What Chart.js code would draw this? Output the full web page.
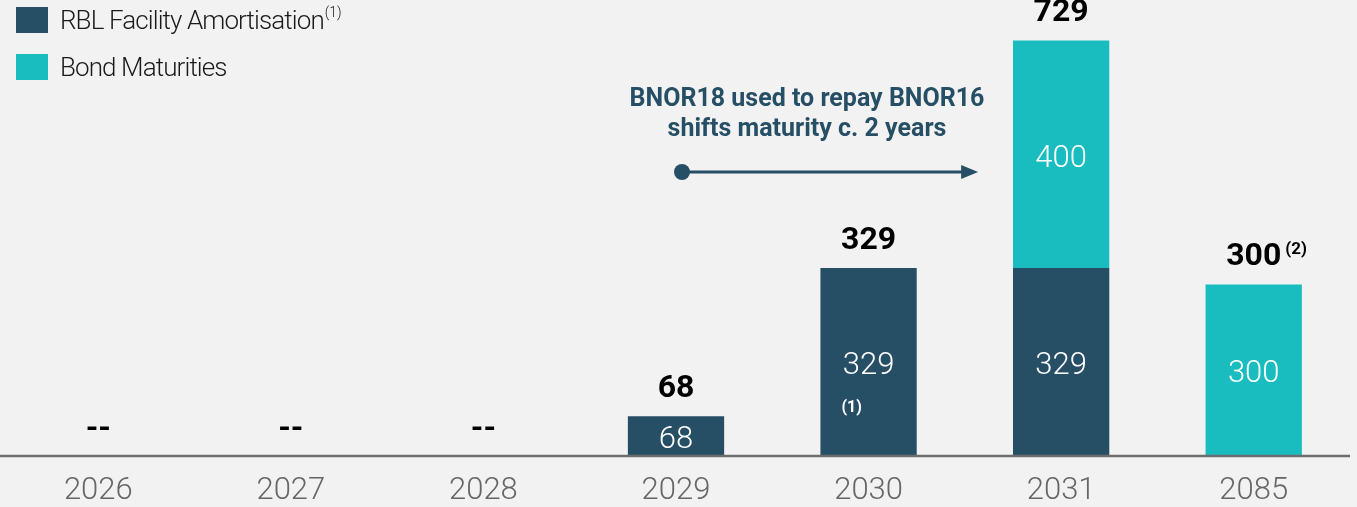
<!DOCTYPE html>
<html>
<head>
<meta charset="utf-8">
<script src="https://cdn.jsdelivr.net/npm/chart.js@4"></script>
<style>
  html, body { margin: 0; padding: 0; background: #f2f2f2; }
  #wrap { width: 1357px; height: 507px; }
</style>
</head>
<body>
<div id="wrap"><canvas id="debtChart" width="1357" height="507"></canvas></div>
<script>
const years = ['2026', '2027', '2028', '2029', '2030', '2031', '2085'];
const rblAmort = [0, 0, 0, 68, 329, 329, 0];
const bondMat = [0, 0, 0, 0, 0, 400, 300];
const totalNotes = ['', '', '', '', '', '', '(2)'];
const rblNotes = ['', '', '', '', '(1)', '', ''];
const seriesNames = ['RBL Facility Amortisation', 'Bond Maturities'];
const legendNotes = ['(1)', ''];
const calloutLines = ['BNOR18 used to repay BNOR16', 'shifts maturity c. 2 years'];

const DARK = '#264f66';
const TEAL = '#19bdc0';
const FONT = 'Roboto, "Liberation Sans", sans-serif';

// background, legend, callout, value labels and the base line
const decor = {
  id: 'decor',
  beforeDraw(chart) {
    const c = chart.ctx;
    c.save();
    c.fillStyle = '#f2f2f2';
    c.fillRect(0, 0, chart.width, chart.height);
    c.restore();
  },
  afterDatasetsDraw(chart) {
    const c = chart.ctx;
    const xs = chart.scales.x;
    const ys = chart.scales.y;
    const area = chart.chartArea;
    c.save();

    // base line
    c.strokeStyle = '#6d6d6d';
    c.lineWidth = 2.5;
    c.beginPath();
    c.moveTo(0, area.bottom + 1);
    c.lineTo(area.right, area.bottom + 1);
    c.stroke();

    // values inside the bars
    c.textAlign = 'center';
    c.textBaseline = 'middle';
    c.fillStyle = '#ffffff';
    chart.data.datasets.forEach((ds, di) => {
      const meta = chart.getDatasetMeta(di);
      meta.data.forEach((bar, i) => {
        const v = ds.data[i];
        if (!v) return;
        c.font = '300 31px ' + FONT;
        c.fillText(String(v), bar.x, (bar.y + bar.base) / 2 + 5);
        if (di === 0 && rblNotes[i]) {
          c.font = 'bold 16px ' + FONT;
          c.fillText(rblNotes[i], bar.x - 17, bar.base - 47);
        }
      });
    });

    // totals above the bars
    c.fillStyle = '#000000';
    years.forEach((yr, i) => {
      const total = rblAmort[i] + bondMat[i];
      const x = xs.getPixelForValue(i);
      c.font = 'bold 32px ' + FONT;
      if (total === 0) {
        c.fillText('--', x, ys.getPixelForValue(0) - 25);
        return;
      }
      const y = ys.getPixelForValue(total) - 27;
      c.fillText(String(total), x, y);
      if (totalNotes[i]) {
        const w = c.measureText(String(total)).width;
        c.font = 'bold 17px ' + FONT;
        c.textAlign = 'left';
        c.fillText(totalNotes[i], x + w / 2 + 4, y - 8);
        c.textAlign = 'center';
      }
    });

    // legend
    const colors = [DARK, TEAL];
    seriesNames.forEach((name, k) => {
      const top = 7 + k * 47;
      c.fillStyle = colors[k];
      c.fillRect(16, top, 32, 26);
      c.fillStyle = '#1a1a1a';
      c.textAlign = 'left';
      c.font = '300 26px ' + FONT;
      c.letterSpacing = '-0.9px';
      c.fillText(name, 60, top + 15);
      if (legendNotes[k]) {
        const w = c.measureText(name).width;
        c.letterSpacing = '0px';
        c.font = '300 14px ' + FONT;
        c.fillText(legendNotes[k], 60 + w + 1, top + 6);
      }
      c.letterSpacing = '0px';
    });

    // callout with arrow
    c.fillStyle = DARK;
    c.strokeStyle = DARK;
    c.textAlign = 'center';
    c.font = 'bold 25px ' + FONT;
    calloutLines.forEach((line, k) => {
      c.fillText(line, 807, 100 + k * 30);
    });
    const x0 = xs.getPixelForValue(3) + 6;
    const x1 = xs.getPixelForValue(5) - 83;
    const ay = 172;
    c.lineWidth = 3;
    c.beginPath();
    c.moveTo(x0, ay);
    c.lineTo(x1 - 12, ay);
    c.stroke();
    c.beginPath();
    c.arc(x0, ay, 8, 0, Math.PI * 2);
    c.fill();
    c.beginPath();
    c.moveTo(x1, ay);
    c.lineTo(x1 - 17, ay - 7);
    c.lineTo(x1 - 17, ay + 7);
    c.closePath();
    c.fill();

    c.restore();
  }
};

new Chart(document.getElementById('debtChart'), {
  type: 'bar',
  data: {
    labels: years,
    datasets: [
      { label: seriesNames[0], data: rblAmort, backgroundColor: DARK },
      { label: seriesNames[1], data: bondMat, backgroundColor: TEAL }
    ]
  },
  options: {
    responsive: false,
    animation: false,
    devicePixelRatio: 1,
    layout: { padding: { left: 2, right: 7, top: 0, bottom: 0 } },
    datasets: { bar: { barPercentage: 0.5, categoryPercentage: 1.0 } },
    plugins: { legend: { display: false }, tooltip: { enabled: false } },
    scales: {
      x: {
        stacked: true,
        grid: { display: false, drawTicks: false },
        border: { display: false },
        ticks: { color: '#666666', padding: 18, font: { family: FONT, size: 31, weight: '300' } },
        afterFit(scale) { scale.height = 52; }
      },
      y: {
        stacked: true,
        display: false,
        min: 0,
        max: 800
      }
    }
  },
  plugins: [decor]
});
</script>
</body>
</html>
